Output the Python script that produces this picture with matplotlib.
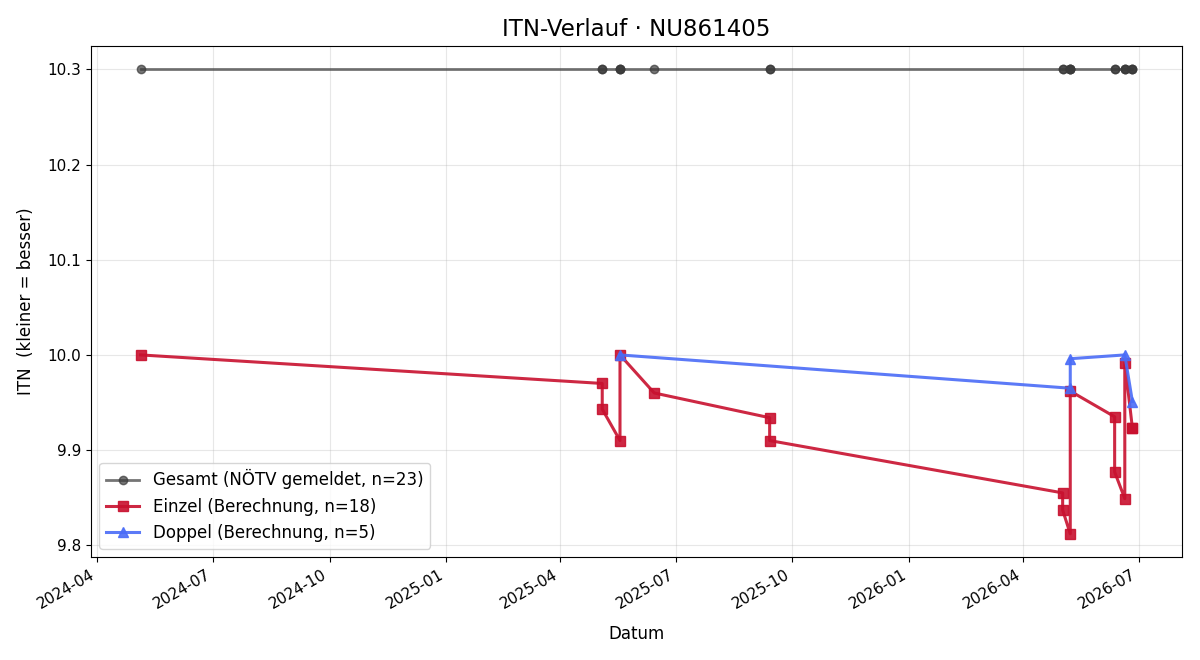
import numpy as np
import pandas as pd
import matplotlib
matplotlib.use('Agg')
import matplotlib.pyplot as plt
import matplotlib.dates as md

# data
einzel_dates = ['2024-05-05', '2025-05-04', '2025-05-04', '2025-05-18', '2025-05-18',
                '2025-06-14', '2025-09-13', '2025-09-13', '2026-05-02', '2026-05-02',
                '2026-05-08', '2026-05-08', '2026-06-12', '2026-06-12', '2026-06-20',
                '2026-06-20', '2026-06-26', '2026-06-26']
einzel_itn = [10.000, 9.970, 9.943, 9.910, 10.000,
              9.960, 9.934, 9.910, 9.855, 9.837,
              9.812, 9.962, 9.935, 9.877, 9.849,
              9.992, 9.923, 9.923]

doppel_dates = ['2025-05-18', '2026-05-08', '2026-05-08', '2026-06-20', '2026-06-26']
doppel_itn = [10.000, 9.965, 9.996, 10.000, 9.951]

gesamt_dates = sorted(einzel_dates + doppel_dates)
gesamt_itn = [10.3] * len(gesamt_dates)

t_e = pd.to_datetime(einzel_dates)
t_d = pd.to_datetime(doppel_dates)
t_g = pd.to_datetime(gesamt_dates)

fig, ax = plt.subplots(figsize=(12, 6.6), dpi=100)

ax.plot(t_g, gesamt_itn, '-o', color='#3a3a3a', alpha=0.7, linewidth=2, markersize=6,
        label=f'Gesamt (NÖTV gemeldet, n={len(gesamt_dates)})')
ax.plot(t_e, einzel_itn, '-s', color='#c8102e', alpha=0.9, linewidth=2.2, markersize=7,
        label=f'Einzel (Berechnung, n={len(einzel_dates)})')
ax.plot(t_d, doppel_itn, '-^', color='#4a6cf7', alpha=0.9, linewidth=2.2, markersize=7,
        label=f'Doppel (Berechnung, n={len(doppel_dates)})')

ax.set_title('ITN-Verlauf · NU861405', fontsize=16.5, pad=7.5)
ax.set_xlabel('Datum', fontsize=12, labelpad=9.5)
ax.set_ylabel('ITN  (kleiner = besser)', fontsize=12, labelpad=9)
ax.xaxis.set_major_locator(md.MonthLocator(bymonth=[1, 4, 7, 10]))
ax.xaxis.set_major_formatter(md.DateFormatter('%Y-%m'))
ax.tick_params(labelsize=11)
ax.grid(True, alpha=0.3)
ax.legend(loc='lower left', fontsize=12)
fig.autofmt_xdate()
fig.subplots_adjust(left=0.0758, right=0.985, top=0.930, bottom=0.156)
fig.savefig('out.png')
